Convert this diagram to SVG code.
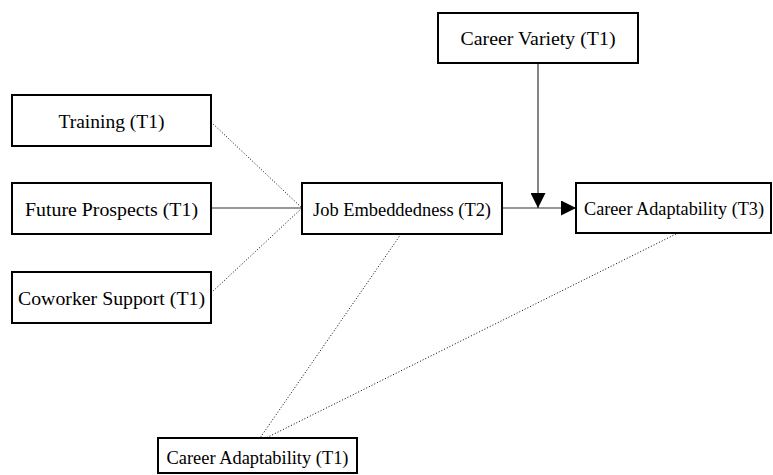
<svg xmlns="http://www.w3.org/2000/svg" width="773" height="475" viewBox="0 0 773 475">
<style>
.box{fill:#fff;stroke:#000;stroke-width:2}
.lbl{font-family:"Liberation Serif","Times New Roman",serif;font-size:19px;fill:#000;text-anchor:middle;dominant-baseline:central}
.solid{stroke:#333;stroke-width:1.2;fill:none}
.dot{stroke:#000;stroke-width:1;stroke-dasharray:1 2;fill:none}
</style>
<defs>
<marker id="arr" viewBox="0 0 10 10" refX="10" refY="5" markerWidth="18" markerHeight="15" markerUnits="userSpaceOnUse" orient="auto">
<path d="M0,0 L10,5 L0,10 Z" fill="#000"/>
</marker>
</defs>
<g id="connectors">
<line class="dot" x1="211" y1="122" x2="302" y2="208"/>
<line class="solid" x1="211" y1="208" x2="302" y2="208"/>
<line class="dot" x1="211" y1="293" x2="302" y2="208"/>
<line class="solid" x1="502" y1="208" x2="576" y2="208" marker-end="url(#arr)"/>
<line class="solid" x1="538" y1="63" x2="538" y2="208" marker-end="url(#arr)"/>
<line class="dot" x1="401" y1="234" x2="260" y2="438"/>
<line class="dot" x1="676" y1="234" x2="266" y2="438"/>
</g>
<g id="training"><rect class="box" x="12" y="95" width="199" height="51"/><text class="lbl" x="111.5" y="121" textLength="106" lengthAdjust="spacingAndGlyphs">Training (T1)</text></g>
<g id="future"><rect class="box" x="12" y="183" width="199" height="51"/><text class="lbl" x="111.5" y="209" textLength="173" lengthAdjust="spacingAndGlyphs">Future Prospects (T1)</text></g>
<g id="coworker"><rect class="box" x="12" y="272" width="199" height="51"/><text class="lbl" x="111.5" y="298" textLength="187" lengthAdjust="spacingAndGlyphs">Coworker Support (T1)</text></g>
<g id="job"><rect class="box" x="302" y="183" width="200" height="51"/><text class="lbl" x="402" y="209" textLength="178" lengthAdjust="spacingAndGlyphs">Job Embeddedness (T2)</text></g>
<g id="variety"><rect class="box" x="438" y="13" width="200" height="50"/><text class="lbl" x="538" y="38.5" textLength="155" lengthAdjust="spacingAndGlyphs">Career Variety (T1)</text></g>
<g id="adapt3"><rect class="box" x="576" y="183" width="195" height="50"/><text class="lbl" x="674" y="208.5" textLength="180" lengthAdjust="spacingAndGlyphs">Career Adaptability (T3)</text></g>
<g id="adapt1"><rect class="box" x="158" y="438" width="199" height="35"/><text class="lbl" x="257.5" y="457" textLength="182" lengthAdjust="spacingAndGlyphs">Career Adaptability (T1)</text></g>
</svg>
